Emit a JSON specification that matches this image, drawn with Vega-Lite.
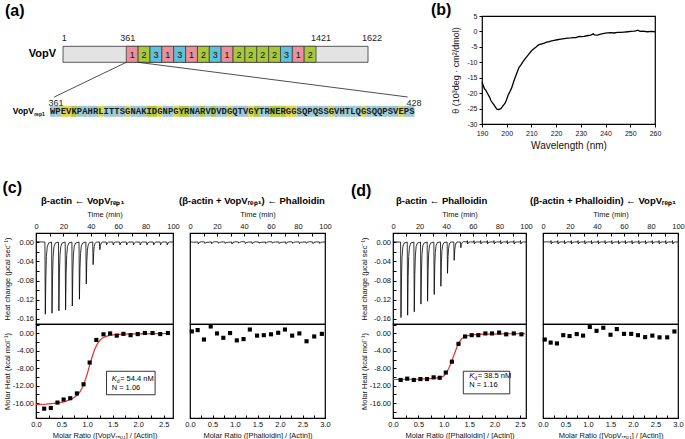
{
"$schema": "https://vega.github.io/schema/vega-lite/v6.json",
"padding": {"left": 2, "top": 1, "right": 2, "bottom": 2},
"config": {
  "font": "Liberation Sans",
  "view": {"stroke": "black", "strokeWidth": 1.2},
  "axis": {"grid": false, "domain": false, "tickColor": "black", "labelColor": "#111", "titleColor": "#111", "labelFontSize": 7.5, "titleFontSize": 7.5, "titleFontWeight": "normal", "labelFlush": false, "labelOverlap": false, "tickSize": -3, "labelPadding": 5.5},
  "title": {"color": "black", "baseline": "alphabetic", "fontWeight": "bold"}
},
"spacing": 28,
"vconcat": [
{
  "hconcat": [
  {
    "width": 395, "height": 108,
    "view": {"stroke": null},
    "title": {"text": "(a)", "anchor": "start", "frame": "group", "dx": -31, "offset": -2.9, "fontSize": 16},
    "encoding": {
      "x": {"field": "x", "type": "quantitative", "scale": {"domain": [-2.11, 71.58], "nice": false, "zero": false}, "axis": null},
      "y": {"field": "y", "type": "quantitative", "scale": {"domain": [0, 108], "reverse": true, "nice": false, "zero": false}, "axis": null}
    },
    "layer": [
      {"data": {"values": [{"x": 2.93, "x2": 59.83, "y": 30.3, "y2": 46.3}]},
       "mark": {"type": "rect", "fill": "#e3e3e3", "stroke": "#333", "strokeWidth": 0.8},
       "encoding": {"x2": {"field": "x2"}, "y2": {"field": "y2"}}},
      {"data": {"values": [
        {"x": 14.73, "x2": 16.94, "y": 30.3, "y2": 46.3, "k": "1"},
        {"x": 16.94, "x2": 19.16, "y": 30.3, "y2": 46.3, "k": "2"},
        {"x": 19.16, "x2": 21.37, "y": 30.3, "y2": 46.3, "k": "3"},
        {"x": 21.37, "x2": 23.58, "y": 30.3, "y2": 46.3, "k": "1"},
        {"x": 23.58, "x2": 25.80, "y": 30.3, "y2": 46.3, "k": "3"},
        {"x": 25.80, "x2": 28.01, "y": 30.3, "y2": 46.3, "k": "1"},
        {"x": 28.01, "x2": 30.22, "y": 30.3, "y2": 46.3, "k": "2"},
        {"x": 30.22, "x2": 32.43, "y": 30.3, "y2": 46.3, "k": "3"},
        {"x": 32.43, "x2": 34.65, "y": 30.3, "y2": 46.3, "k": "1"},
        {"x": 34.65, "x2": 36.86, "y": 30.3, "y2": 46.3, "k": "2"},
        {"x": 36.86, "x2": 39.07, "y": 30.3, "y2": 46.3, "k": "2"},
        {"x": 39.07, "x2": 41.29, "y": 30.3, "y2": 46.3, "k": "2"},
        {"x": 41.29, "x2": 43.50, "y": 30.3, "y2": 46.3, "k": "2"},
        {"x": 43.50, "x2": 45.71, "y": 30.3, "y2": 46.3, "k": "3"},
        {"x": 45.71, "x2": 47.92, "y": 30.3, "y2": 46.3, "k": "1"},
        {"x": 47.92, "x2": 50.14, "y": 30.3, "y2": 46.3, "k": "2"}
       ]},
       "mark": {"type": "rect", "stroke": "#333", "strokeWidth": 0.7},
       "encoding": {"x2": {"field": "x2"}, "y2": {"field": "y2"},
         "fill": {"field": "k", "type": "nominal", "scale": {"domain": ["1", "2", "3"], "range": ["#e8919d", "#a9c73b", "#62c1d8"]}, "legend": null}}},
      {"data": {"values": [
        {"x": 15.84, "y": 38.6, "s": "1"}, {"x": 18.05, "y": 38.6, "s": "2"}, {"x": 20.27, "y": 38.6, "s": "3"},
        {"x": 22.48, "y": 38.6, "s": "1"}, {"x": 24.69, "y": 38.6, "s": "3"}, {"x": 26.91, "y": 38.6, "s": "1"},
        {"x": 29.12, "y": 38.6, "s": "2"}, {"x": 31.33, "y": 38.6, "s": "3"}, {"x": 33.54, "y": 38.6, "s": "1"},
        {"x": 35.76, "y": 38.6, "s": "2"}, {"x": 37.97, "y": 38.6, "s": "2"}, {"x": 40.18, "y": 38.6, "s": "2"},
        {"x": 42.40, "y": 38.6, "s": "2"}, {"x": 44.61, "y": 38.6, "s": "3"}, {"x": 46.82, "y": 38.6, "s": "1"},
        {"x": 49.03, "y": 38.6, "s": "2"}
       ]},
       "mark": {"type": "text", "fontSize": 9, "baseline": "middle", "color": "#111"},
       "encoding": {"text": {"field": "s"}}},
      {"data": {"values": [
        {"x": 3.17, "y": 22.3, "s": "1"}, {"x": 15.0, "y": 22.3, "s": "361"},
        {"x": 51.06, "y": 22.3, "s": "1421"}, {"x": 60.57, "y": 22.3, "s": "1622"},
        {"x": 1.62, "y": 87, "s": "361"}, {"x": 68.41, "y": 87, "s": "428"}
       ]},
       "mark": {"type": "text", "fontSize": 9, "baseline": "middle", "color": "#222"},
       "encoding": {"text": {"field": "s"}}},
      {"data": {"values": [{"x": 1.62, "y": 38.3, "s": "VopV"}]},
       "mark": {"type": "text", "fontSize": 11, "fontWeight": "bold", "align": "right", "baseline": "middle"},
       "encoding": {"text": {"field": "s"}}},
      {"data": {"values": [{"x": 14.73, "y": 46.3, "x2": 1.30, "y2": 81}, {"x": 16.94, "y": 46.3, "x2": 67.23, "y2": 81}]},
       "mark": {"type": "rule", "color": "#222", "strokeWidth": 0.8},
       "encoding": {"x2": {"field": "x2"}, "y2": {"field": "y2"}}},
      {"data": {"values": [
        {"x": 1, "y": 95.3, "c": "B"}, {"x": 2, "y": 95.3, "c": "B"}, {"x": 3, "y": 95.3, "c": "Y"}, {"x": 4, "y": 95.3, "c": "Y"},
        {"x": 5, "y": 95.3, "c": "G"}, {"x": 6, "y": 95.3, "c": "B"}, {"x": 7, "y": 95.3, "c": "B"}, {"x": 8, "y": 95.3, "c": "B"},
        {"x": 9, "y": 95.3, "c": "B"}, {"x": 10, "y": 95.3, "c": "Y"}, {"x": 11, "y": 95.3, "c": "B"}, {"x": 12, "y": 95.3, "c": "B"},
        {"x": 13, "y": 95.3, "c": "B"}, {"x": 14, "y": 95.3, "c": "B"}, {"x": 15, "y": 95.3, "c": "Y"}, {"x": 16, "y": 95.3, "c": "B"},
        {"x": 17, "y": 95.3, "c": "B"}, {"x": 18, "y": 95.3, "c": "B"}, {"x": 19, "y": 95.3, "c": "G"}, {"x": 20, "y": 95.3, "c": "G"},
        {"x": 21, "y": 95.3, "c": "Y"}, {"x": 22, "y": 95.3, "c": "B"}, {"x": 23, "y": 95.3, "c": "B"}, {"x": 24, "y": 95.3, "c": "Y"},
        {"x": 25, "y": 95.3, "c": "G"}, {"x": 26, "y": 95.3, "c": "G"}, {"x": 27, "y": 95.3, "c": "B"}, {"x": 28, "y": 95.3, "c": "B"},
        {"x": 29, "y": 95.3, "c": "G"}, {"x": 30, "y": 95.3, "c": "B"}, {"x": 31, "y": 95.3, "c": "G"}, {"x": 32, "y": 95.3, "c": "B"},
        {"x": 33, "y": 95.3, "c": "B"}, {"x": 34, "y": 95.3, "c": "Y"}, {"x": 35, "y": 95.3, "c": "B"}, {"x": 36, "y": 95.3, "c": "B"},
        {"x": 37, "y": 95.3, "c": "B"}, {"x": 38, "y": 95.3, "c": "Y"}, {"x": 39, "y": 95.3, "c": "G"}, {"x": 40, "y": 95.3, "c": "B"},
        {"x": 41, "y": 95.3, "c": "B"}, {"x": 42, "y": 95.3, "c": "G"}, {"x": 43, "y": 95.3, "c": "G"}, {"x": 44, "y": 95.3, "c": "G"},
        {"x": 45, "y": 95.3, "c": "Y"}, {"x": 46, "y": 95.3, "c": "Y"}, {"x": 47, "y": 95.3, "c": "B"}, {"x": 48, "y": 95.3, "c": "B"},
        {"x": 49, "y": 95.3, "c": "B"}, {"x": 50, "y": 95.3, "c": "B"}, {"x": 51, "y": 95.3, "c": "B"}, {"x": 52, "y": 95.3, "c": "B"},
        {"x": 53, "y": 95.3, "c": "Y"}, {"x": 54, "y": 95.3, "c": "B"}, {"x": 55, "y": 95.3, "c": "B"}, {"x": 56, "y": 95.3, "c": "B"},
        {"x": 57, "y": 95.3, "c": "B"}, {"x": 58, "y": 95.3, "c": "B"}, {"x": 59, "y": 95.3, "c": "Y"}, {"x": 60, "y": 95.3, "c": "B"},
        {"x": 61, "y": 95.3, "c": "B"}, {"x": 62, "y": 95.3, "c": "B"}, {"x": 63, "y": 95.3, "c": "B"}, {"x": 64, "y": 95.3, "c": "B"},
        {"x": 65, "y": 95.3, "c": "B"}, {"x": 66, "y": 95.3, "c": "Y"}, {"x": 67, "y": 95.3, "c": "B"}, {"x": 68, "y": 95.3, "c": "B"}
       ]},
       "mark": {"type": "tick", "orient": "vertical", "thickness": 5.5, "size": 11, "opacity": 1},
       "encoding": {"color": {"field": "c", "type": "nominal", "scale": {"domain": ["Y", "G", "B"], "range": ["#ddd54a", "#b0c93d", "#9ec8d5"]}, "legend": null}}},
      {"data": {"values": [
        {"x": 1, "y": 95.3, "s": "W"}, {"x": 2, "y": 95.3, "s": "P"}, {"x": 3, "y": 95.3, "s": "E"}, {"x": 4, "y": 95.3, "s": "V"},
        {"x": 5, "y": 95.3, "s": "K"}, {"x": 6, "y": 95.3, "s": "P"}, {"x": 7, "y": 95.3, "s": "A"}, {"x": 8, "y": 95.3, "s": "H"},
        {"x": 9, "y": 95.3, "s": "R"}, {"x": 10, "y": 95.3, "s": "L"}, {"x": 11, "y": 95.3, "s": "I"}, {"x": 12, "y": 95.3, "s": "T"},
        {"x": 13, "y": 95.3, "s": "T"}, {"x": 14, "y": 95.3, "s": "S"}, {"x": 15, "y": 95.3, "s": "G"}, {"x": 16, "y": 95.3, "s": "N"},
        {"x": 17, "y": 95.3, "s": "A"}, {"x": 18, "y": 95.3, "s": "K"}, {"x": 19, "y": 95.3, "s": "I"}, {"x": 20, "y": 95.3, "s": "D"},
        {"x": 21, "y": 95.3, "s": "G"}, {"x": 22, "y": 95.3, "s": "N"}, {"x": 23, "y": 95.3, "s": "P"}, {"x": 24, "y": 95.3, "s": "G"},
        {"x": 25, "y": 95.3, "s": "Y"}, {"x": 26, "y": 95.3, "s": "R"}, {"x": 27, "y": 95.3, "s": "N"}, {"x": 28, "y": 95.3, "s": "A"},
        {"x": 29, "y": 95.3, "s": "R"}, {"x": 30, "y": 95.3, "s": "V"}, {"x": 31, "y": 95.3, "s": "D"}, {"x": 32, "y": 95.3, "s": "V"},
        {"x": 33, "y": 95.3, "s": "D"}, {"x": 34, "y": 95.3, "s": "G"}, {"x": 35, "y": 95.3, "s": "Q"}, {"x": 36, "y": 95.3, "s": "T"},
        {"x": 37, "y": 95.3, "s": "V"}, {"x": 38, "y": 95.3, "s": "G"}, {"x": 39, "y": 95.3, "s": "Y"}, {"x": 40, "y": 95.3, "s": "T"},
        {"x": 41, "y": 95.3, "s": "R"}, {"x": 42, "y": 95.3, "s": "N"}, {"x": 43, "y": 95.3, "s": "E"}, {"x": 44, "y": 95.3, "s": "R"},
        {"x": 45, "y": 95.3, "s": "G"}, {"x": 46, "y": 95.3, "s": "G"}, {"x": 47, "y": 95.3, "s": "S"}, {"x": 48, "y": 95.3, "s": "Q"},
        {"x": 49, "y": 95.3, "s": "P"}, {"x": 50, "y": 95.3, "s": "Q"}, {"x": 51, "y": 95.3, "s": "S"}, {"x": 52, "y": 95.3, "s": "S"},
        {"x": 53, "y": 95.3, "s": "G"}, {"x": 54, "y": 95.3, "s": "V"}, {"x": 55, "y": 95.3, "s": "H"}, {"x": 56, "y": 95.3, "s": "T"},
        {"x": 57, "y": 95.3, "s": "L"}, {"x": 58, "y": 95.3, "s": "Q"}, {"x": 59, "y": 95.3, "s": "G"}, {"x": 60, "y": 95.3, "s": "S"},
        {"x": 61, "y": 95.3, "s": "Q"}, {"x": 62, "y": 95.3, "s": "Q"}, {"x": 63, "y": 95.3, "s": "P"}, {"x": 64, "y": 95.3, "s": "S"},
        {"x": 65, "y": 95.3, "s": "V"}, {"x": 66, "y": 95.3, "s": "E"}, {"x": 67, "y": 95.3, "s": "P"}, {"x": 68, "y": 95.3, "s": "S"}
       ]},
       "mark": {"type": "text", "font": "Liberation Mono", "fontWeight": "bold", "fontSize": 8.9, "baseline": "middle", "color": "#1a1a1a"},
       "encoding": {"text": {"field": "s"}}},
      {"data": {"values": [{"x": -2.49, "y": 95.3, "s": "VopV"}]},
       "mark": {"type": "text", "fontSize": 8.5, "fontWeight": "bold", "align": "right", "baseline": "middle"},
       "encoding": {"text": {"field": "s"}}},
      {"data": {"values": [{"x": -2.45, "y": 95.3, "s": "rep1"}]},
       "mark": {"type": "text", "fontSize": 5, "fontWeight": "bold", "align": "left", "baseline": "middle", "dy": 2.8},
       "encoding": {"text": {"field": "s"}}}
    ]
  },
  {
    "width": 173, "height": 108,
    "title": {"text": "(b)", "anchor": "start", "frame": "group", "dx": -51, "offset": -6.4, "fontSize": 16},
    "data": {"values": [
      {"w": 190, "v": -16.5}, {"w": 190.5, "v": -17.5}, {"w": 191, "v": -18.6}, {"w": 191.5, "v": -19.0}, {"w": 192.3, "v": -20.2},
      {"w": 193, "v": -21.2}, {"w": 193.6, "v": -22.4}, {"w": 194.3, "v": -23.2}, {"w": 195, "v": -24.0}, {"w": 195.5, "v": -24.6},
      {"w": 196, "v": -25.2}, {"w": 196.7, "v": -25.3}, {"w": 197.3, "v": -25.2}, {"w": 197.8, "v": -24.9}, {"w": 198.3, "v": -24.3},
      {"w": 198.8, "v": -23.8}, {"w": 199.4, "v": -23.2}, {"w": 200, "v": -22.0}, {"w": 200.6, "v": -20.6}, {"w": 201.3, "v": -19.5},
      {"w": 202, "v": -18.3}, {"w": 202.6, "v": -16.8}, {"w": 203.3, "v": -15.2}, {"w": 204.1, "v": -13.5}, {"w": 205, "v": -11.6},
      {"w": 205.7, "v": -10.9}, {"w": 206.4, "v": -10.0}, {"w": 207.1, "v": -9.2}, {"w": 207.8, "v": -8.5}, {"w": 208.4, "v": -7.9},
      {"w": 209.1, "v": -7.2}, {"w": 209.8, "v": -6.5}, {"w": 210.5, "v": -5.9}, {"w": 211.1, "v": -5.5}, {"w": 211.8, "v": -5.1},
      {"w": 212.5, "v": -4.6}, {"w": 213.1, "v": -4.3}, {"w": 214.2, "v": -4.0}, {"w": 215.2, "v": -3.8}, {"w": 216.2, "v": -3.5},
      {"w": 217.2, "v": -3.3}, {"w": 218.2, "v": -3.1}, {"w": 219.2, "v": -2.9}, {"w": 220.5, "v": -2.7}, {"w": 221.9, "v": -2.5},
      {"w": 223.3, "v": -2.3}, {"w": 224.6, "v": -2.2}, {"w": 226, "v": -2.1}, {"w": 227, "v": -2.0}, {"w": 228, "v": -2.0},
      {"w": 229.3, "v": -1.6}, {"w": 230.3, "v": -1.7}, {"w": 231.3, "v": -1.6}, {"w": 232.5, "v": -1.4}, {"w": 234, "v": -1.2},
      {"w": 235, "v": -0.8}, {"w": 235.4, "v": -1.1}, {"w": 236.7, "v": -1.2}, {"w": 238, "v": -0.9}, {"w": 239.4, "v": -0.6},
      {"w": 240.8, "v": -0.5}, {"w": 242.1, "v": -0.4}, {"w": 243.5, "v": -0.5}, {"w": 244.8, "v": -0.3}, {"w": 246, "v": -0.3},
      {"w": 247.5, "v": -0.2}, {"w": 249, "v": -0.1}, {"w": 250.2, "v": 0.0}, {"w": 251.5, "v": 0.1}, {"w": 252.2, "v": 0.2},
      {"w": 253, "v": 0.4}, {"w": 254, "v": 0.0}, {"w": 255, "v": 0.1}, {"w": 256.9, "v": -0.1}, {"w": 258.5, "v": 0.0},
      {"w": 260, "v": -0.1}
    ]},
    "mark": {"type": "line", "color": "black", "strokeWidth": 1.3},
    "encoding": {
      "x": {"field": "w", "type": "quantitative", "scale": {"domain": [190, 260], "nice": false},
        "axis": {"title": "Wavelength (nm)", "values": [190, 200, 210, 220, 230, 240, 250, 260], "tickSize": 3, "labelPadding": 2, "labelFontSize": 7, "titleFontSize": 10, "titlePadding": 4}},
      "y": {"field": "v", "type": "quantitative", "scale": {"domain": [-30, 5], "nice": false, "zero": false},
        "axis": {"title": "θ (10³deg · cm²/dmol)", "values": [-30, -25, -20, -15, -10, -5, 0, 5], "labelExpr": "(datum.value < 0 ? '-' : '') + abs(datum.value)", "tickSize": 3, "labelPadding": 2, "labelFontSize": 7, "titleFontSize": 9, "titleX": -21.5}}
    }
  }
  ],
  "spacing": 51,
  "bounds": "flush"
},
{
  "columns": 5,
  "spacing": {"row": 0, "column": 17},
  "bounds": "flush",
  "align": "each",
  "title": {"text": "(c)", "anchor": "start", "dx": 0, "offset": -12.5, "fontSize": 16},
  "concat": [
  {
    "width": 137, "height": 91,
    "title": {"text": "β-actin ← VopVᵣₑₚ₁", "anchor": "start", "frame": "group", "dx": 5, "offset": 5, "fontSize": 9.5},
    "data": {"values": [
      {"t": 0, "h": 0.0008}, {"t": 3, "h": 0.0003},
      {"t": 6.5, "h": 0}, {"t": 6.8, "h": -0.150}, {"t": 7.2, "h": -0.070}, {"t": 7.6, "h": -0.030}, {"t": 8.2, "h": -0.010}, {"t": 9.2, "h": -0.002},
      {"t": 11.4, "h": 0}, {"t": 11.7, "h": -0.148}, {"t": 12.1, "h": -0.069}, {"t": 12.5, "h": -0.030}, {"t": 13.1, "h": -0.010}, {"t": 14.1, "h": -0.002},
      {"t": 16.4, "h": 0}, {"t": 16.7, "h": -0.143}, {"t": 17.1, "h": -0.066}, {"t": 17.5, "h": -0.028}, {"t": 18.1, "h": -0.009}, {"t": 19.1, "h": -0.002},
      {"t": 21.3, "h": 0}, {"t": 21.6, "h": -0.141}, {"t": 22.0, "h": -0.065}, {"t": 22.4, "h": -0.028}, {"t": 23.0, "h": -0.009}, {"t": 24.0, "h": -0.002},
      {"t": 26.2, "h": 0}, {"t": 26.5, "h": -0.133}, {"t": 26.9, "h": -0.062}, {"t": 27.3, "h": -0.027}, {"t": 27.9, "h": -0.009}, {"t": 28.9, "h": -0.002},
      {"t": 31.4, "h": 0}, {"t": 31.7, "h": -0.119}, {"t": 32.1, "h": -0.055}, {"t": 32.5, "h": -0.024}, {"t": 33.1, "h": -0.008}, {"t": 34.1, "h": -0.002},
      {"t": 36.4, "h": 0}, {"t": 36.7, "h": -0.087}, {"t": 37.1, "h": -0.040}, {"t": 37.5, "h": -0.017}, {"t": 38.1, "h": -0.006}, {"t": 39.1, "h": -0.001},
      {"t": 41.4, "h": 0}, {"t": 41.7, "h": -0.047}, {"t": 42.1, "h": -0.022}, {"t": 42.5, "h": -0.009}, {"t": 43.1, "h": -0.003}, {"t": 44.1, "h": 0},
      {"t": 46.3, "h": 0}, {"t": 46.6, "h": -0.016}, {"t": 47.0, "h": -0.007}, {"t": 47.6, "h": -0.002}, {"t": 48.6, "h": 0},
      {"t": 51.2, "h": 0}, {"t": 51.5, "h": -0.006}, {"t": 52.0, "h": -0.002}, {"t": 53.1, "h": 0},
      {"t": 56.1, "h": 0}, {"t": 56.4, "h": -0.006}, {"t": 56.9, "h": -0.002}, {"t": 58.0, "h": 0},
      {"t": 61.0, "h": 0}, {"t": 61.3, "h": -0.006}, {"t": 61.8, "h": -0.002}, {"t": 62.9, "h": 0},
      {"t": 65.9, "h": 0}, {"t": 66.2, "h": -0.006}, {"t": 66.7, "h": -0.002}, {"t": 67.8, "h": 0},
      {"t": 70.9, "h": 0}, {"t": 71.2, "h": -0.006}, {"t": 71.7, "h": -0.002}, {"t": 72.8, "h": 0},
      {"t": 75.8, "h": 0}, {"t": 76.1, "h": -0.006}, {"t": 76.6, "h": -0.002}, {"t": 77.7, "h": 0},
      {"t": 80.7, "h": 0}, {"t": 81.0, "h": -0.006}, {"t": 81.5, "h": -0.002}, {"t": 82.6, "h": 0},
      {"t": 85.6, "h": 0}, {"t": 85.9, "h": -0.006}, {"t": 86.4, "h": -0.002}, {"t": 87.5, "h": 0},
      {"t": 90.6, "h": 0}, {"t": 90.9, "h": -0.006}, {"t": 91.4, "h": -0.002}, {"t": 92.5, "h": 0},
      {"t": 95.5, "h": 0}, {"t": 95.8, "h": -0.006}, {"t": 96.3, "h": -0.002}, {"t": 97.4, "h": 0},
      {"t": 100, "h": 0}
    ]},
    "mark": {"type": "line", "color": "black", "strokeWidth": 0.8},
    "encoding": {
      "x": {"field": "t", "type": "quantitative", "scale": {"domain": [0, 100], "nice": false},
        "axis": {"orient": "top", "title": "Time (min)", "values": [0, 10, 20, 30, 40, 50, 60, 70, 80, 90, 100], "labelExpr": "datum.value % 20 === 0 ? datum.label : ''", "titlePadding": 4}},
      "y": {"field": "h", "type": "quantitative", "scale": {"domain": [-0.1704, 0.0188], "nice": false, "zero": false},
        "axis": {"title": "Heat change (μcal sec⁻¹)", "values": [-0.16, -0.14, -0.12, -0.1, -0.08, -0.06, -0.04, -0.02, 0], "labelExpr": "abs(round(datum.value*100)) % 4 === 0 ? (datum.value < -0.0001 ? '-' : '') + format(abs(datum.value), '.2f') : ''", "titleX": -25}}
    }
  },
  {
    "width": 135, "height": 91,
    "title": {"text": "(β-actin + VopVᵣₑₚ₁) ← Phalloidin", "anchor": "start", "frame": "group", "dx": -11, "offset": 5, "fontSize": 9.5},
    "data": {"values": [
      {"t": 0, "h": 0.0005}, {"t": 2.5, "h": -0.0005},
      {"t": 5.8, "h": 0.0002}, {"t": 6.1, "h": -0.004}, {"t": 6.8, "h": -0.0008}, {"t": 8.3, "h": 0.0006},
      {"t": 10.8, "h": 0.0002}, {"t": 11.1, "h": -0.003}, {"t": 11.8, "h": -0.0008}, {"t": 13.3, "h": -0.0004},
      {"t": 15.8, "h": 0.0002}, {"t": 16.1, "h": -0.0035}, {"t": 16.8, "h": -0.0008}, {"t": 18.3, "h": 0.0008},
      {"t": 20.8, "h": 0.0002}, {"t": 21.1, "h": -0.0025}, {"t": 21.8, "h": -0.0008}, {"t": 23.3, "h": 0.0002},
      {"t": 25.8, "h": 0.0002}, {"t": 26.1, "h": -0.003}, {"t": 26.8, "h": -0.0008}, {"t": 28.3, "h": -0.0006},
      {"t": 30.8, "h": 0.0002}, {"t": 31.1, "h": -0.004}, {"t": 31.8, "h": -0.0008}, {"t": 33.3, "h": 0.0005},
      {"t": 35.8, "h": 0.0002}, {"t": 36.1, "h": -0.002}, {"t": 36.8, "h": -0.0008}, {"t": 38.3, "h": 0.0009},
      {"t": 40.8, "h": 0.0002}, {"t": 41.1, "h": -0.003}, {"t": 41.8, "h": -0.0008}, {"t": 43.3, "h": -0.0002},
      {"t": 45.8, "h": 0.0002}, {"t": 46.1, "h": -0.0035}, {"t": 46.8, "h": -0.0008}, {"t": 48.3, "h": 0.0004},
      {"t": 50.8, "h": 0.0002}, {"t": 51.1, "h": -0.0025}, {"t": 51.8, "h": -0.0008}, {"t": 53.3, "h": -0.0005},
      {"t": 55.8, "h": 0.0002}, {"t": 56.1, "h": -0.003}, {"t": 56.8, "h": -0.0008}, {"t": 58.3, "h": 0.0007},
      {"t": 60.8, "h": 0.0002}, {"t": 61.1, "h": -0.0022}, {"t": 61.8, "h": -0.0008}, {"t": 63.3, "h": 0.0001},
      {"t": 65.8, "h": 0.0002}, {"t": 66.1, "h": -0.003}, {"t": 66.8, "h": -0.0008}, {"t": 68.3, "h": -0.0004},
      {"t": 70.8, "h": 0.0002}, {"t": 71.1, "h": -0.0035}, {"t": 71.8, "h": -0.0008}, {"t": 73.3, "h": 0.0006},
      {"t": 75.8, "h": 0.0002}, {"t": 76.1, "h": -0.0028}, {"t": 76.8, "h": -0.0008}, {"t": 78.3, "h": 0.0003},
      {"t": 80.8, "h": 0.0002}, {"t": 81.1, "h": -0.003}, {"t": 81.8, "h": -0.0008}, {"t": 83.3, "h": -0.0003},
      {"t": 85.8, "h": 0.0002}, {"t": 86.1, "h": -0.0025}, {"t": 86.8, "h": -0.0008}, {"t": 88.3, "h": 0.0008},
      {"t": 90.8, "h": 0.0002}, {"t": 91.1, "h": -0.0032}, {"t": 91.8, "h": -0.0008}, {"t": 93.3, "h": 0.0002},
      {"t": 95.8, "h": 0.0002}, {"t": 96.1, "h": -0.003}, {"t": 96.8, "h": -0.0008}, {"t": 98.3, "h": -0.0001},
      {"t": 100, "h": 0.0002}
    ]},
    "mark": {"type": "line", "color": "black", "strokeWidth": 0.8},
    "encoding": {
      "x": {"field": "t", "type": "quantitative", "scale": {"domain": [0, 100], "nice": false},
        "axis": {"orient": "top", "title": "Time (min)", "values": [0, 10, 20, 30, 40, 50, 60, 70, 80, 90, 100], "labelExpr": "datum.value % 20 === 0 ? datum.label : ''", "titlePadding": 4}},
      "y": {"field": "h", "type": "quantitative", "scale": {"domain": [-0.1704, 0.0188], "nice": false, "zero": false}, "axis": null}
    }
  },
  {
    "width": 34, "height": 91,
    "view": {"stroke": null},
    "title": {"text": "(d)", "anchor": "start", "frame": "group", "dx": 9, "offset": 34, "fontSize": 16},
    "data": {"values": [{"a": 0}]},
    "mark": {"type": "point", "opacity": 0},
    "encoding": {}
  },
  {
    "width": 133, "height": 91,
    "title": {"text": "β-actin ← Phalloidin", "anchor": "start", "frame": "group", "dx": 3, "offset": 5, "fontSize": 9.5},
    "data": {"values": [
      {"t": 0, "h": 0.0005}, {"t": 3, "h": 0},
      {"t": 5.7, "h": 0}, {"t": 6.0, "h": -0.157}, {"t": 6.4, "h": -0.073}, {"t": 6.8, "h": -0.031}, {"t": 7.4, "h": -0.010}, {"t": 8.4, "h": -0.002},
      {"t": 10.7, "h": 0}, {"t": 11.0, "h": -0.152}, {"t": 11.4, "h": -0.071}, {"t": 11.8, "h": -0.030}, {"t": 12.4, "h": -0.010}, {"t": 13.4, "h": -0.002},
      {"t": 15.7, "h": 0}, {"t": 16.0, "h": -0.145}, {"t": 16.4, "h": -0.067}, {"t": 16.8, "h": -0.029}, {"t": 17.4, "h": -0.009}, {"t": 18.4, "h": -0.002},
      {"t": 20.7, "h": 0}, {"t": 21.0, "h": -0.129}, {"t": 21.4, "h": -0.060}, {"t": 21.8, "h": -0.026}, {"t": 22.4, "h": -0.008}, {"t": 23.4, "h": -0.002},
      {"t": 25.7, "h": 0}, {"t": 26.0, "h": -0.123}, {"t": 26.4, "h": -0.057}, {"t": 26.8, "h": -0.025}, {"t": 27.4, "h": -0.008}, {"t": 28.4, "h": -0.002},
      {"t": 30.7, "h": 0}, {"t": 31.0, "h": -0.109}, {"t": 31.4, "h": -0.051}, {"t": 31.8, "h": -0.022}, {"t": 32.4, "h": -0.007}, {"t": 33.4, "h": -0.001},
      {"t": 35.7, "h": 0}, {"t": 36.0, "h": -0.092}, {"t": 36.4, "h": -0.043}, {"t": 36.8, "h": -0.018}, {"t": 37.4, "h": -0.006}, {"t": 38.4, "h": -0.001},
      {"t": 40.7, "h": 0}, {"t": 41.0, "h": -0.065}, {"t": 41.4, "h": -0.030}, {"t": 41.8, "h": -0.013}, {"t": 42.4, "h": -0.004}, {"t": 43.4, "h": 0},
      {"t": 45.7, "h": 0}, {"t": 46.0, "h": -0.038}, {"t": 46.4, "h": -0.018}, {"t": 46.8, "h": -0.008}, {"t": 47.4, "h": -0.002}, {"t": 48.4, "h": 0},
      {"t": 50.7, "h": 0}, {"t": 51.0, "h": -0.012}, {"t": 51.4, "h": -0.005}, {"t": 52.0, "h": -0.001}, {"t": 53.0, "h": 0.001},
      {"t": 55.7, "h": 0}, {"t": 55.9, "h": 0.003}, {"t": 56.1, "h": -0.004}, {"t": 56.7, "h": -0.0008}, {"t": 58.3, "h": 0.0003},
      {"t": 60.7, "h": 0}, {"t": 60.9, "h": 0.003}, {"t": 61.1, "h": -0.004}, {"t": 61.7, "h": -0.0008}, {"t": 63.3, "h": 0.0003},
      {"t": 65.7, "h": 0}, {"t": 65.9, "h": 0.003}, {"t": 66.1, "h": -0.004}, {"t": 66.7, "h": -0.0008}, {"t": 68.3, "h": 0.0003},
      {"t": 70.7, "h": 0}, {"t": 70.9, "h": 0.003}, {"t": 71.1, "h": -0.004}, {"t": 71.7, "h": -0.0008}, {"t": 73.3, "h": 0.0003},
      {"t": 75.7, "h": 0}, {"t": 75.9, "h": 0.003}, {"t": 76.1, "h": -0.004}, {"t": 76.7, "h": -0.0008}, {"t": 78.3, "h": 0.0003},
      {"t": 80.7, "h": 0}, {"t": 80.9, "h": 0.003}, {"t": 81.1, "h": -0.004}, {"t": 81.7, "h": -0.0008}, {"t": 83.3, "h": 0.0003},
      {"t": 85.7, "h": 0}, {"t": 85.9, "h": 0.003}, {"t": 86.1, "h": -0.004}, {"t": 86.7, "h": -0.0008}, {"t": 88.3, "h": 0.0003},
      {"t": 90.7, "h": 0}, {"t": 90.9, "h": 0.003}, {"t": 91.1, "h": -0.004}, {"t": 91.7, "h": -0.0008}, {"t": 93.3, "h": 0.0003},
      {"t": 95.7, "h": 0}, {"t": 95.9, "h": 0.003}, {"t": 96.1, "h": -0.004}, {"t": 96.7, "h": -0.0008}, {"t": 98.3, "h": 0.0003},
      {"t": 100, "h": 0}
    ]},
    "mark": {"type": "line", "color": "black", "strokeWidth": 0.8},
    "encoding": {
      "x": {"field": "t", "type": "quantitative", "scale": {"domain": [0, 100], "nice": false},
        "axis": {"orient": "top", "title": "Time (min)", "values": [0, 10, 20, 30, 40, 50, 60, 70, 80, 90, 100], "labelExpr": "datum.value % 20 === 0 ? datum.label : ''", "titlePadding": 4}},
      "y": {"field": "h", "type": "quantitative", "scale": {"domain": [-0.1704, 0.0188], "nice": false, "zero": false},
        "axis": {"title": "Heat change (μcal sec⁻¹)", "values": [-0.16, -0.14, -0.12, -0.1, -0.08, -0.06, -0.04, -0.02, 0], "labelExpr": "abs(round(datum.value*100)) % 4 === 0 ? (datum.value < -0.0001 ? '-' : '') + format(abs(datum.value), '.2f') : ''", "titleX": -25}}
    }
  },
  {
    "width": 135, "height": 91,
    "title": {"text": "(β-actin + Phalloidin) ← VopVᵣₑₚ₁", "anchor": "start", "frame": "group", "dx": -13, "offset": 5, "fontSize": 9.5},
    "data": {"values": [
      {"t": 0, "h": 0}, {"t": 2.5, "h": 0.0004},
      {"t": 5.8, "h": 0}, {"t": 5.95, "h": 0.003}, {"t": 6.1, "h": -0.004}, {"t": 6.7, "h": -0.001}, {"t": 8.3, "h": 0.0003},
      {"t": 10.8, "h": 0}, {"t": 10.95, "h": 0.003}, {"t": 11.1, "h": -0.004}, {"t": 11.7, "h": -0.001}, {"t": 13.3, "h": 0.0003},
      {"t": 15.8, "h": 0}, {"t": 15.95, "h": 0.003}, {"t": 16.1, "h": -0.004}, {"t": 16.7, "h": -0.001}, {"t": 18.3, "h": 0.0003},
      {"t": 20.8, "h": 0}, {"t": 20.95, "h": 0.003}, {"t": 21.1, "h": -0.004}, {"t": 21.7, "h": -0.001}, {"t": 23.3, "h": 0.0003},
      {"t": 25.8, "h": 0}, {"t": 25.95, "h": 0.003}, {"t": 26.1, "h": -0.004}, {"t": 26.7, "h": -0.001}, {"t": 28.3, "h": 0.0003},
      {"t": 30.8, "h": 0}, {"t": 30.95, "h": 0.003}, {"t": 31.1, "h": -0.004}, {"t": 31.7, "h": -0.001}, {"t": 33.3, "h": 0.0003},
      {"t": 35.8, "h": 0}, {"t": 35.95, "h": 0.003}, {"t": 36.1, "h": -0.004}, {"t": 36.7, "h": -0.001}, {"t": 38.3, "h": 0.0003},
      {"t": 40.8, "h": 0}, {"t": 40.95, "h": 0.003}, {"t": 41.1, "h": -0.004}, {"t": 41.7, "h": -0.001}, {"t": 43.3, "h": 0.0003},
      {"t": 45.8, "h": 0}, {"t": 45.95, "h": 0.003}, {"t": 46.1, "h": -0.004}, {"t": 46.7, "h": -0.001}, {"t": 48.3, "h": 0.0003},
      {"t": 50.8, "h": 0}, {"t": 50.95, "h": 0.003}, {"t": 51.1, "h": -0.004}, {"t": 51.7, "h": -0.001}, {"t": 53.3, "h": 0.0003},
      {"t": 55.8, "h": 0}, {"t": 55.95, "h": 0.003}, {"t": 56.1, "h": -0.004}, {"t": 56.7, "h": -0.001}, {"t": 58.3, "h": 0.0003},
      {"t": 60.8, "h": 0}, {"t": 60.95, "h": 0.003}, {"t": 61.1, "h": -0.004}, {"t": 61.7, "h": -0.001}, {"t": 63.3, "h": 0.0003},
      {"t": 65.8, "h": 0}, {"t": 65.95, "h": 0.003}, {"t": 66.1, "h": -0.004}, {"t": 66.7, "h": -0.001}, {"t": 68.3, "h": 0.0003},
      {"t": 70.8, "h": 0}, {"t": 70.95, "h": 0.003}, {"t": 71.1, "h": -0.004}, {"t": 71.7, "h": -0.001}, {"t": 73.3, "h": 0.0003},
      {"t": 75.8, "h": 0}, {"t": 75.95, "h": 0.003}, {"t": 76.1, "h": -0.004}, {"t": 76.7, "h": -0.001}, {"t": 78.3, "h": 0.0003},
      {"t": 80.8, "h": 0}, {"t": 80.95, "h": 0.003}, {"t": 81.1, "h": -0.004}, {"t": 81.7, "h": -0.001}, {"t": 83.3, "h": 0.0003},
      {"t": 85.8, "h": 0}, {"t": 85.95, "h": 0.003}, {"t": 86.1, "h": -0.004}, {"t": 86.7, "h": -0.001}, {"t": 88.3, "h": 0.0003},
      {"t": 90.8, "h": 0}, {"t": 90.95, "h": 0.003}, {"t": 91.1, "h": -0.004}, {"t": 91.7, "h": -0.001}, {"t": 93.3, "h": 0.0003},
      {"t": 95.8, "h": 0}, {"t": 95.95, "h": 0.003}, {"t": 96.1, "h": -0.004}, {"t": 96.7, "h": -0.001}, {"t": 98.3, "h": 0.0003},
      {"t": 100, "h": 0}
    ]},
    "mark": {"type": "line", "color": "black", "strokeWidth": 0.8},
    "encoding": {
      "x": {"field": "t", "type": "quantitative", "scale": {"domain": [0, 100], "nice": false},
        "axis": {"orient": "top", "title": "Time (min)", "values": [0, 10, 20, 30, 40, 50, 60, 70, 80, 90, 100], "labelExpr": "datum.value % 20 === 0 ? datum.label : ''", "titlePadding": 4}},
      "y": {"field": "h", "type": "quantitative", "scale": {"domain": [-0.1704, 0.0188], "nice": false, "zero": false}, "axis": null}
    }
  },
  {
    "width": 137, "height": 94,
    "encoding": {
      "x": {"field": "x", "type": "quantitative", "scale": {"domain": [0, 2.68], "nice": false, "zero": false},
        "axis": {"title": "Molar Ratio ([VopVᵣₑₚ₁] / [Actin])", "values": [0, 0.25, 0.5, 0.75, 1, 1.25, 1.5, 1.75, 2, 2.25, 2.5], "labelExpr": "round(datum.value*100) % 50 === 0 ? format(datum.value, '.1f') : ''", "titlePadding": 3}},
      "y": {"field": "y", "type": "quantitative", "scale": {"domain": [-19.45, 2.17], "nice": false, "zero": false},
        "axis": {"title": "Molar Heat (kcal mol⁻¹)", "values": [-18, -16, -14, -12, -10, -8, -6, -4, -2, 0, 2], "labelExpr": "datum.value % 4 === 0 ? (datum.value < 0 ? '-' : '') + format(abs(datum.value), '.2f') : ''", "titleX": -25}}
    },
    "layer": [
      {"data": {"values": [
        {"x": 0, "y": -16.3}, {"x": 0.2, "y": -16.25}, {"x": 0.4, "y": -16.05}, {"x": 0.55, "y": -15.75}, {"x": 0.7, "y": -15.1},
        {"x": 0.8, "y": -14.3}, {"x": 0.85, "y": -13.6}, {"x": 0.9, "y": -12.6}, {"x": 0.95, "y": -11.2}, {"x": 1.0, "y": -9.4},
        {"x": 1.05, "y": -7.3}, {"x": 1.1, "y": -5.3}, {"x": 1.15, "y": -3.6}, {"x": 1.2, "y": -2.4}, {"x": 1.25, "y": -1.6},
        {"x": 1.3, "y": -1.05}, {"x": 1.4, "y": -0.55}, {"x": 1.5, "y": -0.33}, {"x": 1.7, "y": -0.17}, {"x": 2.0, "y": -0.08},
        {"x": 2.3, "y": -0.04}, {"x": 2.62, "y": -0.02}
       ]},
       "mark": {"type": "line", "color": "#e3312c", "strokeWidth": 1.2}},
      {"data": {"values": [
        {"x": 0.16, "y": -17.3}, {"x": 0.29, "y": -17.15}, {"x": 0.42, "y": -15.9}, {"x": 0.54, "y": -15.2}, {"x": 0.67, "y": -14.9},
        {"x": 0.80, "y": -13.8}, {"x": 0.93, "y": -11.7}, {"x": 1.05, "y": -6.7}, {"x": 1.18, "y": -1.5}, {"x": 1.32, "y": -0.2},
        {"x": 1.45, "y": 0.0}, {"x": 1.58, "y": -0.5}, {"x": 1.71, "y": -0.1}, {"x": 1.85, "y": -0.4}, {"x": 1.99, "y": -0.15},
        {"x": 2.13, "y": 0.1}, {"x": 2.28, "y": 0.1}, {"x": 2.43, "y": -0.15}, {"x": 2.58, "y": 0.1}
       ]},
       "mark": {"type": "square", "size": 17, "color": "black", "opacity": 1}},
      {"data": {"values": [{"x": 1.38, "x2": 2.33, "y": -8.7, "y2": -14.1}]},
       "mark": {"type": "rect", "fill": "white", "stroke": "black", "strokeWidth": 0.8},
       "encoding": {"x2": {"field": "x2"}, "y2": {"field": "y2"}}},
      {"data": {"values": [{"x": 1.48, "y": -10.5, "s": "K"}]},
       "mark": {"type": "text", "align": "left", "baseline": "middle", "fontSize": 7.5, "fontStyle": "italic"},
       "encoding": {"text": {"field": "s"}}},
      {"data": {"values": [{"x": 1.48, "y": -10.5, "s": "d"}]},
       "mark": {"type": "text", "align": "left", "baseline": "middle", "fontSize": 5, "dx": 5, "dy": 2},
       "encoding": {"text": {"field": "s"}}},
      {"data": {"values": [{"x": 1.48, "y": -10.5, "s": "= 54.4 nM"}]},
       "mark": {"type": "text", "align": "left", "baseline": "middle", "fontSize": 7.5, "dx": 8.5},
       "encoding": {"text": {"field": "s"}}},
      {"data": {"values": [{"x": 1.48, "y": -12.5, "s": "N =  1.06"}]},
       "mark": {"type": "text", "align": "left", "baseline": "middle", "fontSize": 7.5},
       "encoding": {"text": {"field": "s"}}}
    ]
  },
  {
    "width": 135, "height": 94,
    "data": {"values": [
      {"x": 0.04, "y": 0.46}, {"x": 0.17, "y": 0.77}, {"x": 0.31, "y": -1.4}, {"x": 0.46, "y": 1.6}, {"x": 0.6, "y": 0},
      {"x": 0.74, "y": -1.0}, {"x": 0.89, "y": 0.08}, {"x": 1.04, "y": -1.6}, {"x": 1.19, "y": -1.3}, {"x": 1.33, "y": 0.9},
      {"x": 1.49, "y": -0.5}, {"x": 1.64, "y": -0.4}, {"x": 1.8, "y": -0.2}, {"x": 1.96, "y": 0.15}, {"x": 2.11, "y": 0.9},
      {"x": 2.27, "y": -0.5}, {"x": 2.43, "y": 0}, {"x": 2.59, "y": -1.8}, {"x": 2.76, "y": -0.7}, {"x": 2.93, "y": -0.1}
    ]},
    "mark": {"type": "square", "size": 17, "color": "black", "opacity": 1},
    "encoding": {
      "x": {"field": "x", "type": "quantitative", "scale": {"domain": [0, 3], "nice": false, "zero": false},
        "axis": {"title": "Molar Ratio ([Phalloidin] / [Actin])", "values": [0, 0.25, 0.5, 0.75, 1, 1.25, 1.5, 1.75, 2, 2.25, 2.5, 2.75, 3], "labelExpr": "round(datum.value*100) % 50 === 0 ? format(datum.value, '.1f') : ''", "titlePadding": 3}},
      "y": {"field": "y", "type": "quantitative", "scale": {"domain": [-19.45, 2.17], "nice": false, "zero": false}, "axis": null}
    }
  },
  {
    "width": 34, "height": 94,
    "view": {"stroke": null},
    "data": {"values": [{"a": 0}]},
    "mark": {"type": "point", "opacity": 0},
    "encoding": {}
  },
  {
    "width": 133, "height": 94,
    "encoding": {
      "x": {"field": "x", "type": "quantitative", "scale": {"domain": [0, 2.62], "nice": false, "zero": false},
        "axis": {"title": "Molar Ratio ([Phalloidin] / [Actin])", "values": [0, 0.25, 0.5, 0.75, 1, 1.25, 1.5, 1.75, 2, 2.25, 2.5], "labelExpr": "round(datum.value*100) % 50 === 0 ? format(datum.value, '.1f') : ''", "titlePadding": 3}},
      "y": {"field": "y", "type": "quantitative", "scale": {"domain": [-19.45, 2.17], "nice": false, "zero": false},
        "axis": {"title": "Molar Heat (kcal mol⁻¹)", "values": [-18, -16, -14, -12, -10, -8, -6, -4, -2, 0, 2], "labelExpr": "datum.value % 4 === 0 ? (datum.value < 0 ? '-' : '') + format(abs(datum.value), '.2f') : ''", "titleX": -25}}
    },
    "layer": [
      {"data": {"values": [
        {"x": 0, "y": -10.6}, {"x": 0.5, "y": -10.5}, {"x": 0.8, "y": -10.35}, {"x": 0.95, "y": -10.1}, {"x": 1.0, "y": -9.8},
        {"x": 1.05, "y": -9.1}, {"x": 1.1, "y": -8.0}, {"x": 1.15, "y": -6.6}, {"x": 1.2, "y": -5.0}, {"x": 1.25, "y": -3.4},
        {"x": 1.3, "y": -2.1}, {"x": 1.35, "y": -1.25}, {"x": 1.4, "y": -0.8}, {"x": 1.45, "y": -0.55}, {"x": 1.55, "y": -0.32},
        {"x": 1.8, "y": -0.16}, {"x": 2.2, "y": -0.08}, {"x": 2.6, "y": -0.05}
       ]},
       "mark": {"type": "line", "color": "#e3312c", "strokeWidth": 1.2}},
      {"data": {"values": [
        {"x": 0.15, "y": -10.7}, {"x": 0.28, "y": -10.4}, {"x": 0.41, "y": -10.7}, {"x": 0.54, "y": -10.5}, {"x": 0.67, "y": -10.5},
        {"x": 0.80, "y": -10.1}, {"x": 0.92, "y": -10.2}, {"x": 1.04, "y": -9.0}, {"x": 1.16, "y": -6.5}, {"x": 1.29, "y": -2.4},
        {"x": 1.42, "y": -0.7}, {"x": 1.55, "y": -0.4}, {"x": 1.68, "y": -0.4}, {"x": 1.82, "y": 0.0}, {"x": 1.95, "y": 0.0},
        {"x": 2.09, "y": 0.2}, {"x": 2.23, "y": -0.2}, {"x": 2.38, "y": 0.0}, {"x": 2.53, "y": -0.2}
       ]},
       "mark": {"type": "square", "size": 17, "color": "black", "opacity": 1}},
      {"data": {"values": [{"x": 1.385, "x2": 2.30, "y": -8.7, "y2": -13.9}]},
       "mark": {"type": "rect", "fill": "white", "stroke": "black", "strokeWidth": 0.8},
       "encoding": {"x2": {"field": "x2"}, "y2": {"field": "y2"}}},
      {"data": {"values": [{"x": 1.5, "y": -9.9, "s": "K"}]},
       "mark": {"type": "text", "align": "left", "baseline": "middle", "fontSize": 7.5, "fontStyle": "italic"},
       "encoding": {"text": {"field": "s"}}},
      {"data": {"values": [{"x": 1.5, "y": -9.9, "s": "d"}]},
       "mark": {"type": "text", "align": "left", "baseline": "middle", "fontSize": 5, "dx": 5, "dy": 2},
       "encoding": {"text": {"field": "s"}}},
      {"data": {"values": [{"x": 1.5, "y": -9.9, "s": "= 38.5 nM"}]},
       "mark": {"type": "text", "align": "left", "baseline": "middle", "fontSize": 7.5, "dx": 8.5},
       "encoding": {"text": {"field": "s"}}},
      {"data": {"values": [{"x": 1.5, "y": -11.9, "s": "N = 1.16"}]},
       "mark": {"type": "text", "align": "left", "baseline": "middle", "fontSize": 7.5},
       "encoding": {"text": {"field": "s"}}}
    ]
  },
  {
    "width": 135, "height": 94,
    "data": {"values": [
      {"x": 0.04, "y": -1.4}, {"x": 0.17, "y": -2.1}, {"x": 0.31, "y": -2.3}, {"x": 0.45, "y": -0.4}, {"x": 0.59, "y": -0.6},
      {"x": 0.75, "y": -0.15}, {"x": 0.89, "y": -0.5}, {"x": 1.04, "y": 1.5}, {"x": 1.19, "y": 0.6}, {"x": 1.34, "y": 1.3},
      {"x": 1.5, "y": -0.3}, {"x": 1.64, "y": 1.0}, {"x": 1.8, "y": -0.1}, {"x": 1.96, "y": -0.1}, {"x": 2.11, "y": -0.4},
      {"x": 2.27, "y": -0.85}, {"x": 2.43, "y": -0.5}, {"x": 2.59, "y": -0.9}, {"x": 2.76, "y": -0.9}, {"x": 2.92, "y": 0.45}
    ]},
    "mark": {"type": "square", "size": 17, "color": "black", "opacity": 1},
    "encoding": {
      "x": {"field": "x", "type": "quantitative", "scale": {"domain": [0, 3], "nice": false, "zero": false},
        "axis": {"title": "Molar Ratio ([VopVᵣₑₚ₁] / [Actin])", "values": [0, 0.25, 0.5, 0.75, 1, 1.25, 1.5, 1.75, 2, 2.25, 2.5, 2.75, 3], "labelExpr": "round(datum.value*100) % 50 === 0 ? format(datum.value, '.1f') : ''", "titlePadding": 3}},
      "y": {"field": "y", "type": "quantitative", "scale": {"domain": [-19.45, 2.17], "nice": false, "zero": false}, "axis": null}
    }
  }
  ]
}
]
}
